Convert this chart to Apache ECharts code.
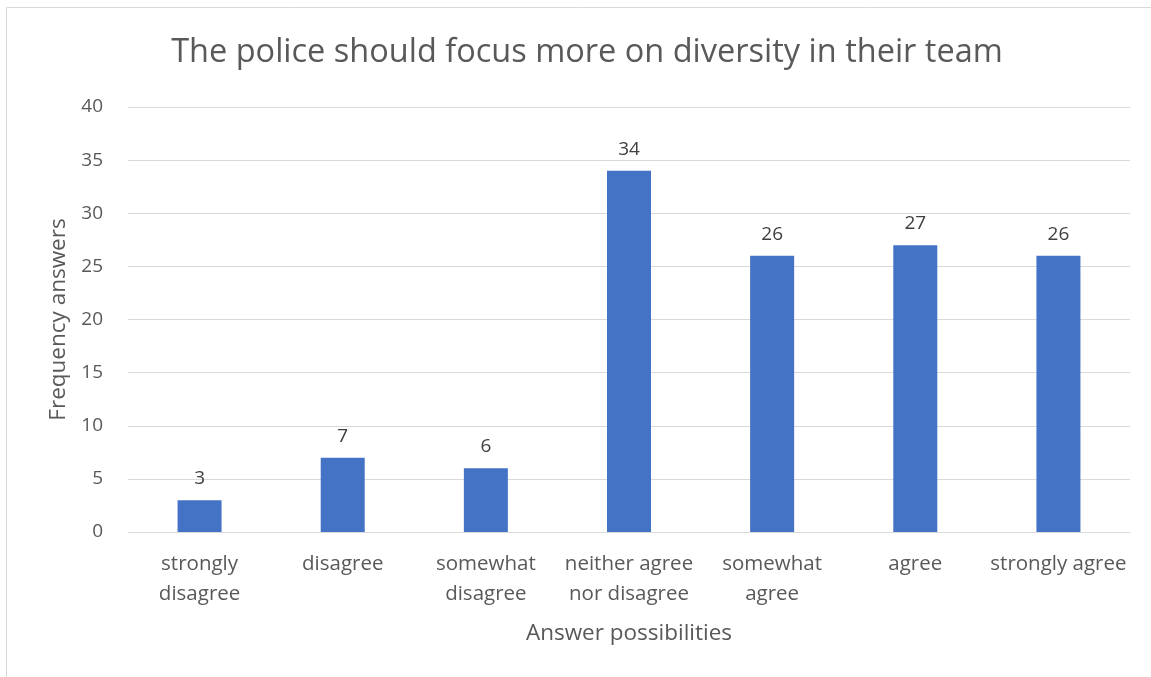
<!DOCTYPE html>
<html><head><meta charset="utf-8">
<script src="https://cdn.jsdelivr.net/npm/echarts@6/dist/echarts.min.js"></script>
<style>html,body{margin:0;padding:0;background:#fff}#c{width:1151px;height:677px}</style>
</head><body><div id="c"></div>
<script>
var categories = ['strongly\ndisagree', 'disagree', 'somewhat\ndisagree', 'neither agree\nnor disagree', 'somewhat\nagree', 'agree', 'strongly agree'];
var values = [3, 7, 6, 34, 26, 27, 26];
var yTicks = [0, 5, 10, 15, 20, 25, 30, 35, 40];
var titleText = 'The police should focus more on diversity in their team';
var FONT = '"Open Sans", "Noto Sans", sans-serif';
var chart = echarts.init(document.getElementById('c'));
chart.setOption({
  animation: false,
  backgroundColor: '#fff',
  graphic: [{type: 'rect', shape: {x: 6.5, y: 7.5, width: 1300, height: 800}, style: {fill: 'none', stroke: '#d9d9d9', lineWidth: 1}}],
  title: {text: titleText, left: 582, top: 31, textAlign: 'center',
    textStyle: {fontFamily: FONT, fontSize: 32.5, fontWeight: 'normal', color: '#595959'}},
  grid: {left: 128, right: 21, top: 107, bottom: 145},
  xAxis: {type: 'category', data: categories,
    name: 'Answer possibilities', nameLocation: 'middle', nameGap: 90,
    nameTextStyle: {fontFamily: FONT, fontSize: 22.5, color: '#595959'},
    axisLine: {lineStyle: {color: '#d9d9d9'}}, axisTick: {show: false},
    axisLabel: {fontFamily: FONT, fontSize: 20.5, color: '#595959', lineHeight: 30, margin: 17, interval: 0}},
  yAxis: {type: 'value', min: yTicks[0], max: yTicks[yTicks.length - 1], interval: 5,
    name: 'Frequency answers', nameLocation: 'middle', nameGap: 56,
    nameTextStyle: {fontFamily: FONT, fontSize: 22.5, color: '#595959'},
    axisLine: {show: false}, axisTick: {show: false},
    splitLine: {lineStyle: {color: '#d9d9d9', width: 1}},
    axisLabel: {fontFamily: FONT, fontSize: 19, color: '#595959', margin: 25}},
  series: [{type: 'bar', data: values, barWidth: 44,
    itemStyle: {color: '#4472C4'},
    label: {show: true, position: 'top', distance: 12, fontFamily: FONT, fontSize: 19, color: '#404040'}}]
});
</script></body></html>
